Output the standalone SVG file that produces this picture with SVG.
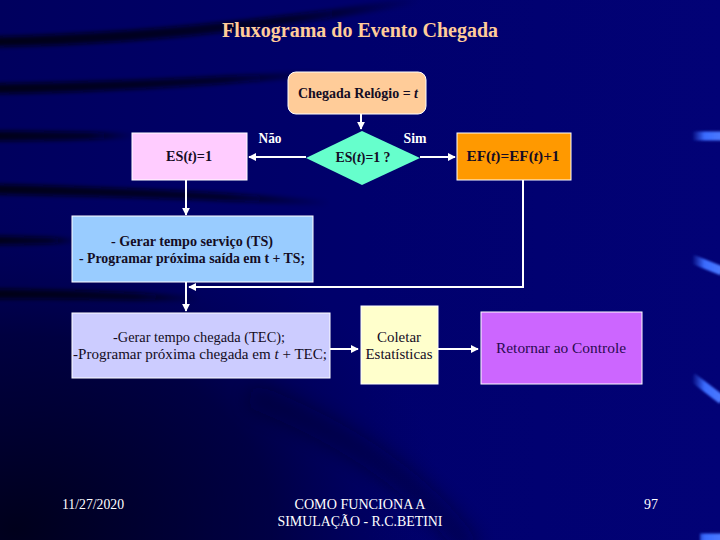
<svg xmlns="http://www.w3.org/2000/svg" width="720" height="540" viewBox="0 0 720 540">
<defs>
<style>
.bx{stroke:#ffffff;stroke-width:1}
.t{font-family:"Liberation Serif","Times New Roman",serif;text-anchor:middle}
.dk{fill:#140c24}
.b{font-weight:bold}
.w{fill:#ffffff}
.ln{fill:none;stroke:#ffffff;stroke-width:2}
.band{fill:none;stroke:#00000e;stroke-opacity:0.85;stroke-linecap:round}
.hl{fill:none;stroke:url(#hg);stroke-width:9}
</style>
<marker id="ah" viewBox="0 0 10 10" refX="9" refY="5" markerWidth="4" markerHeight="4" orient="auto">
<path d="M0,0 L10,5 L0,10 z" fill="#ffffff"/>
</marker>
<radialGradient id="bl" cx="0.02" cy="0.98" r="0.6">
<stop offset="0" stop-color="#000018" stop-opacity="0.95"/>
<stop offset="0.6" stop-color="#000028" stop-opacity="0.55"/>
<stop offset="1" stop-color="#000050" stop-opacity="0"/>
</radialGradient>
<linearGradient id="bg" x1="0" y1="0" x2="1" y2="0">
<stop offset="0" stop-color="#00005e"/>
<stop offset="0.5" stop-color="#00006c"/>
<stop offset="1" stop-color="#020276"/>
</linearGradient>
<linearGradient id="hg" gradientUnits="userSpaceOnUse" x1="692" y1="0" x2="720" y2="0">
<stop offset="0" stop-color="#3a6cff" stop-opacity="0"/>
<stop offset="0.45" stop-color="#3a6cff"/>
<stop offset="1" stop-color="#4a78ff"/>
</linearGradient>
<linearGradient id="fadeR" x1="0" y1="0" x2="1" y2="0">
<stop offset="0" stop-color="#00000e" stop-opacity="0.9"/>
<stop offset="0.7" stop-color="#00000e" stop-opacity="0.7"/>
<stop offset="1" stop-color="#00000e" stop-opacity="0"/>
</linearGradient>
<filter id="blur" x="-20%" y="-100%" width="140%" height="300%"><feGaussianBlur stdDeviation="2"/></filter>
<filter id="blur2" x="-20%" y="-100%" width="140%" height="300%"><feGaussianBlur stdDeviation="1"/></filter>
<filter id="blur3" x="-20%" y="-50%" width="140%" height="200%"><feGaussianBlur stdDeviation="10"/></filter>
</defs>

<g id="background">
<rect width="720" height="540" fill="url(#bg)"/>
<rect width="720" height="540" fill="url(#bl)"/>
<g filter="url(#blur)">
<path d="M-20,37 C120,34 260,22 420,-4 L420,4 C260,32 120,46 -20,47 Z" fill="url(#fadeR)"/>
<path d="M-20,84 C100,82 200,78 330,70 L330,76 C200,86 100,93 -20,94 Z" fill="url(#fadeR)"/>
<path d="M-20,131 C40,131 90,132 135,133 L135,138 C90,140 40,141 -20,141 Z" fill="url(#fadeR)"/>
<path d="M-20,184 C100,186 220,192 330,200 L330,206 C220,200 100,196 -20,194 Z" fill="url(#fadeR)"/>
<path d="M-20,236 C20,236 50,237 78,238 L78,243 C50,244 20,245 -20,245 Z" fill="url(#fadeR)"/>
<path d="M-20,289 C60,289 120,292 200,296 L200,302 C120,300 60,299 -20,299 Z" fill="url(#fadeR)"/>
</g>
<path d="M250,395 C340,430 420,480 470,550" fill="none" stroke="#000020" stroke-opacity="0.35" stroke-width="24" filter="url(#blur3)"/>
<g filter="url(#blur2)">
<path class="hl" d="M692,136 L722,136"/>
<path class="hl" d="M692,259 L722,271"/>
<path class="hl" d="M692,377 L722,400"/>
<path class="hl" d="M700,538 L722,538"/>
</g>
</g>

<text class="t b" x="360" y="37" font-size="20" fill="#ffcc99">Fluxograma do Evento Chegada</text>

<g id="connectors">
<path class="ln" d="M361,114 L361,129" marker-end="url(#ah)"/>
<path class="ln" d="M306,157 L249,157" marker-end="url(#ah)"/>
<path class="ln" d="M420,157 L455,157" marker-end="url(#ah)"/>
<path class="ln" d="M186,180 L186,215" marker-end="url(#ah)"/>
<path class="ln" d="M523,180 L523,287 L189,287" marker-end="url(#ah)"/>
<path class="ln" d="M186,282 L186,311" marker-end="url(#ah)"/>
<path class="ln" d="M330,349 L358,349" marker-end="url(#ah)"/>
<path class="ln" d="M438,349 L478,349" marker-end="url(#ah)"/>
</g>

<g id="start">
<rect class="bx" x="288" y="72" width="138" height="42" rx="8" fill="#ffcc99"/>
<text class="t dk b" x="358" y="98" font-size="14" textLength="120" lengthAdjust="spacingAndGlyphs">Chegada Relógio = <tspan font-style="italic">t</tspan></text>
</g>

<g id="decision">
<polygon points="362,131 420,158 362,185 306,158" fill="#66ffcc"/>
<text class="t dk b" x="363" y="162" font-size="14" textLength="55" lengthAdjust="spacingAndGlyphs">ES(<tspan font-style="italic">t</tspan>)=1 ?</text>
</g>

<text class="t w b" x="270" y="143" font-size="14" textLength="23" lengthAdjust="spacingAndGlyphs">Não</text>
<text class="t w b" x="415" y="143" font-size="14" textLength="23" lengthAdjust="spacingAndGlyphs">Sim</text>

<g id="es">
<rect class="bx" x="132" y="133" width="115" height="47" fill="#ffccff"/>
<text class="t dk b" x="189" y="161" font-size="14" textLength="46" lengthAdjust="spacingAndGlyphs">ES(<tspan font-style="italic">t</tspan>)=1</text>
</g>

<g id="ef">
<rect class="bx" x="457" y="133" width="114" height="47" fill="#ff9900"/>
<text class="t dk b" x="513" y="161" font-size="14" textLength="93" lengthAdjust="spacingAndGlyphs">EF(<tspan font-style="italic">t</tspan>)=EF(<tspan font-style="italic">t</tspan>)+1</text>
</g>

<g id="servico">
<rect class="bx" x="72" y="216" width="241" height="66" fill="#99ccff"/>
<text class="t dk b" x="192" y="246" font-size="15" textLength="162" lengthAdjust="spacingAndGlyphs">- Gerar tempo serviço (TS)</text>
<text class="t dk b" x="192" y="263" font-size="15" textLength="226" lengthAdjust="spacingAndGlyphs">- Programar próxima saída em t + TS;</text>
</g>

<g id="chegada">
<rect class="bx" x="72" y="313" width="258" height="65" fill="#ccccff"/>
<text class="t dk" x="199" y="342" font-size="15" textLength="172" lengthAdjust="spacingAndGlyphs">-Gerar tempo chegada (TEC);</text>
<text class="t dk" x="200" y="359" font-size="15" textLength="254" lengthAdjust="spacingAndGlyphs">-Programar próxima chegada em <tspan font-style="italic">t</tspan> + TEC;</text>
</g>

<g id="coletar">
<rect class="bx" x="361" y="306" width="77" height="78" fill="#ffffcc"/>
<text class="t dk" x="399" y="342" font-size="15" textLength="44" lengthAdjust="spacingAndGlyphs">Coletar</text>
<text class="t dk" x="399" y="359" font-size="15" textLength="67" lengthAdjust="spacingAndGlyphs">Estatísticas</text>
</g>

<g id="retornar">
<rect class="bx" x="481" y="312" width="161" height="72" fill="#cc66ff"/>
<text class="t" x="561" y="353" font-size="15" fill="#2a0a50" textLength="130" lengthAdjust="spacingAndGlyphs">Retornar ao Controle</text>
</g>

<g id="footer">
<text class="t w" x="93" y="509" font-size="14" textLength="62" lengthAdjust="spacingAndGlyphs">11/27/2020</text>
<text class="t w" x="360" y="509" font-size="14" textLength="131" lengthAdjust="spacingAndGlyphs">COMO FUNCIONA A</text>
<text class="t w" x="360" y="526" font-size="14" textLength="165" lengthAdjust="spacingAndGlyphs">SIMULAÇÃO - R.C.BETINI</text>
<text class="t w" x="651" y="509" font-size="14">97</text>
</g>
</svg>
